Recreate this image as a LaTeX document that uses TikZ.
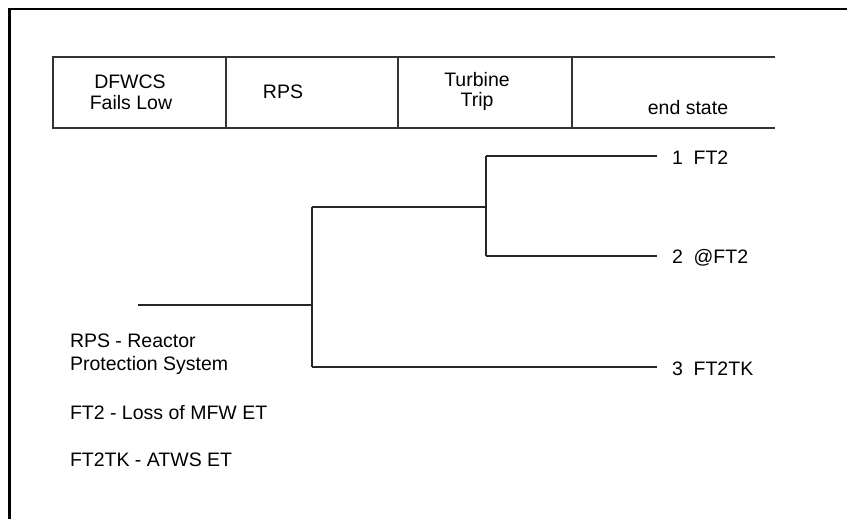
\documentclass[tikz,border=0pt]{standalone}
\usepackage{fontspec}
\setmainfont{Liberation Sans}
\begin{document}
\begin{tikzpicture}[x=1pt,y=-1pt,
  every node/.style={inner sep=0pt,outer sep=0pt,font=\fontsize{19.5}{22}\selectfont},
  frame/.style={line width=2.6pt,black},
  rule/.style={line width=1.5pt,black!80},
  branch/.style={line width=1.5pt,black!85},
  lbl/.style={anchor=west},
  hdr/.style={align=center}]
\useasboundingbox (0,0) rectangle (847,519);
% outer frame (open at right and bottom)
\draw[frame] (847,9) -- (9.5,9) -- (9.5,519);
% header table
\coordinate (tl) at (53,57);
\coordinate (tr) at (775,57);
\coordinate (bl) at (53,128);
\coordinate (br) at (775,128);
\draw[rule] (tr) -- (tl) -- (bl) -- (br);
\foreach \x/\n in {226/a,398/b,572/c}{
  \coordinate (d\n t) at (\x,57);
  \coordinate (d\n b) at (\x,128);
  \draw[rule] (d\n t) -- (d\n b);
}
\node[hdr] (h1a) at (130,82) {DFWCS};
\node[hdr] (h1b) at (131,103) {Fails Low};
\node[hdr] (h2) at (283,92) {RPS};
\node[hdr] (h3a) at (477,80) {Turbine};
\node[hdr] (h3b) at (477,101) {Trip};
\node[hdr] (h4) at (688,108) {end state};
% event tree
\coordinate (start) at (138,305);
\coordinate (j1) at (312,305);
\coordinate (j1t) at (312,207);
\coordinate (j1b) at (312,367);
\coordinate (j2) at (486,207);
\coordinate (j2t) at (486,156);
\coordinate (j2b) at (486,256);
\coordinate (e1) at (657,156);
\coordinate (e2) at (657,256);
\coordinate (e3) at (657,367);
\draw[branch] (start) -- (j1);
\draw[branch] (j1t) -- (j1b);
\draw[branch] (j1t) -- (j2);
\draw[branch] (j2t) -- (j2b);
\draw[branch] (j2t) -- (e1);
\draw[branch] (j2b) -- (e2);
\draw[branch] (j1b) -- (e3);
\node[lbl] (l1) at (672,158) {1\ \ FT2};
\node[lbl] (l2) at (672,258) {2\ \ @FT2};
\node[lbl] (l3) at (672,369) {3\ \ FT2TK};
% legend
\node[lbl] (g1) at (70,341) {RPS - Reactor};
\node[lbl] (g2) at (70,365) {Protection System};
\node[lbl] (g3) at (70,413) {FT2 - Loss of MFW ET};
\node[lbl] (g4) at (70,460) {FT2TK - ATWS ET};
\end{tikzpicture}
\end{document}
